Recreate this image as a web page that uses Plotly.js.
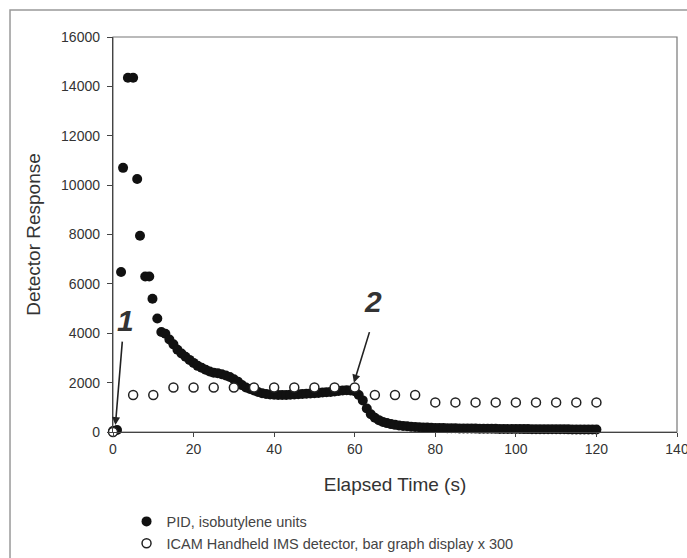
<!DOCTYPE html>
<html>
<head>
<meta charset="utf-8">
<script src="https://cdn.plot.ly/plotly-3.0.1.min.js"></script>
<style>
html,body{margin:0;padding:0;background:#fff;}
#chart{width:687px;height:558px;}
</style>
</head>
<body>
<div id="chart"></div>
<script>
// PID, isobutylene units
const pidTime = [0, 1, 2, 2.5, 3.7, 5, 6, 6.7, 8, 9, 9.8, 11,
  12, 13, 14, 15, 16, 17, 18, 19, 20, 21, 22, 23, 24, 25, 26, 27, 28, 29,
  30, 31, 32, 33, 34, 35, 36, 37, 38, 39, 40, 41, 42, 43, 44, 45, 46, 47, 48, 49,
  50, 51, 52, 53, 54, 55, 56, 57, 58, 59, 60, 61, 62, 63, 64, 65, 66, 67, 68, 69,
  70, 71, 72, 73, 74, 75, 76, 77, 78, 79, 80, 81, 82, 83, 84, 85, 86, 87, 88, 89,
  90, 91, 92, 93, 94, 95, 96, 97, 98, 99, 100, 101, 102, 103, 104, 105, 106, 107, 108, 109,
  110, 111, 112, 113, 114, 115, 116, 117, 118, 119, 120];
const pidValue = [40, 80, 6480, 10700, 14350, 14350, 10250, 7950, 6300, 6300, 5400, 4600,
  4050, 3980, 3750, 3550, 3330, 3180, 3050, 2920, 2800, 2680, 2600, 2520, 2450, 2400, 2380, 2340, 2290, 2230,
  2140, 2040, 1900, 1800, 1740, 1680, 1620, 1570, 1540, 1520, 1510, 1500, 1500, 1500, 1510, 1520, 1530, 1540, 1550, 1560,
  1570, 1580, 1600, 1610, 1620, 1640, 1660, 1680, 1690, 1680, 1650, 1500, 1280, 950, 720, 580, 480, 410, 360, 320,
  290, 265, 245, 230, 215, 205, 195, 185, 178, 172, 166, 162, 158, 155, 152, 149, 146, 143, 141, 139,
  137, 135, 133, 131, 129, 127, 126, 124, 123, 121, 120, 119, 118, 117, 116, 115, 114, 113, 112, 111,
  110, 109, 108, 107, 106, 105, 104, 103, 102, 101, 100];

// ICAM Handheld IMS detector, bar graph display x 300
const icamTime = [0, 5, 10, 15, 20, 25, 30, 35, 40, 45, 50, 55, 60, 65, 70, 75, 80, 85, 90, 95, 100, 105, 110, 115, 120];
const icamValue = [0, 1500, 1500, 1800, 1800, 1800, 1800, 1800, 1800, 1800, 1800, 1800, 1800, 1500, 1500, 1500, 1200, 1200, 1200, 1200, 1200, 1200, 1200, 1200, 1200];

const xTicks = [0, 20, 40, 60, 80, 100, 120, 140];
const yTicks = [0, 2000, 4000, 6000, 8000, 10000, 12000, 14000, 16000];

const FONT = 'Liberation Sans, Arial, sans-serif';

const traces = [
  {
    x: pidTime, y: pidValue, type: 'scatter', mode: 'markers',
    name: 'PID, isobutylene units',
    marker: {color: '#111', size: 10, symbol: 'circle'},
    cliponaxis: false
  },
  {
    x: icamTime, y: icamValue, type: 'scatter', mode: 'markers',
    name: 'ICAM Handheld IMS detector, bar graph display x 300',
    marker: {color: '#fff', size: 9, symbol: 'circle', line: {color: '#222', width: 1.5}},
    cliponaxis: false
  }
];

const layout = {
  width: 687, height: 558,
  margin: {l: 113, r: 10, t: 37, b: 126, autoexpand: false},
  paper_bgcolor: '#fff', plot_bgcolor: '#fff',
  font: {family: FONT, color: '#333'},
  showlegend: true,
  legend: {
    x: 0.024, y: -0.186, xanchor: 'left', yanchor: 'top',
    font: {family: FONT, size: 14.5, color: '#444'},
    bgcolor: 'rgba(0,0,0,0)', tracegroupgap: 0
  },
  xaxis: {
    range: [0, 140], tickvals: xTicks, ticktext: xTicks.map(String),
    showgrid: false, zeroline: false,
    showline: true, linecolor: '#444', linewidth: 1.2,
    ticks: 'outside', ticklen: 4, tickcolor: '#444',
    ticklabeloverflow: 'allow',
    tickfont: {family: FONT, size: 14, color: '#333'},
    title: {text: 'Elapsed Time (s)', font: {family: FONT, size: 19, color: '#333'}, standoff: 21}
  },
  yaxis: {
    range: [0, 16000], tickvals: yTicks, ticktext: yTicks.map(String),
    showgrid: false, zeroline: false,
    showline: true, linecolor: '#444', linewidth: 1.2,
    ticks: 'outside', ticklen: 5, tickcolor: '#444',
    ticklabelstandoff: 4,
    tickfont: {family: FONT, size: 14, color: '#333'},
    title: {text: 'Detector Response', font: {family: FONT, size: 19, color: '#333'}, standoff: 15}
  },
  shapes: [
    {type: 'rect', xref: 'paper', yref: 'paper', x0: 0, x1: 1, y0: 0, y1: 1,
     line: {color: '#777', width: 1.2}, layer: 'below'},
    {type: 'rect', xref: 'paper', yref: 'paper', x0: -0.1826, x1: 1.2, y0: -0.5, y1: 1.0684,
     line: {color: '#999', width: 1.5}, layer: 'below'}
  ],
  annotations: [
    {x: 0.6, y: 280, xref: 'x', yref: 'y', ax: 7, ay: -85, text: '',
     showarrow: true, arrowhead: 2, arrowsize: 1, arrowwidth: 1.6, arrowcolor: '#222'},
    {x: 3, y: 4500, xref: 'x', yref: 'y', text: '<b><i>1</i></b>', showarrow: false,
     font: {family: FONT, size: 30, color: '#333'}},
    {x: 59.8, y: 2000, xref: 'x', yref: 'y', ax: 16, ay: -52, text: '',
     showarrow: true, arrowhead: 2, arrowsize: 1, arrowwidth: 1.6, arrowcolor: '#222'},
    {x: 64.6, y: 5300, xref: 'x', yref: 'y', text: '<b><i>2</i></b>', showarrow: false,
     font: {family: FONT, size: 30, color: '#333'}}
  ]
};

Plotly.newPlot('chart', traces, layout, {displayModeBar: false, staticPlot: true});
</script>
</body>
</html>
